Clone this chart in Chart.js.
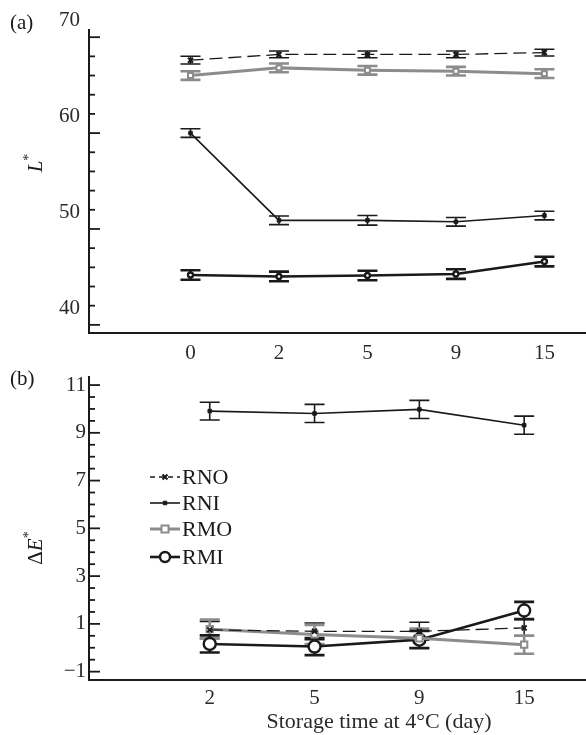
<!DOCTYPE html>
<html>
<head>
<meta charset="utf-8">
<script src="https://cdn.jsdelivr.net/npm/chart.js@4.4.0/dist/chart.umd.min.js"></script>
<style>
    html, body { margin: 0; padding: 0; background: #fff; overflow: hidden; }
    #wrapA { position: absolute; left: 0; top: 0; width: 586px; height: 365px; }
    #wrapB { position: absolute; left: 0; top: 365px; width: 586px; height: 370px; }
</style>
</head>
<body>
<div id="wrapA"><canvas id="chartA"></canvas></div>
<div id="wrapB"><canvas id="chartB"></canvas></div>
<script>
// Panel (a): L* against storage day
const daysA = ['0', '2', '5', '9', '15'];
const lightRNO = [65.6, 66.2, 66.2, 66.2, 66.4];
const lightRNOErr = [0.4, 0.35, 0.35, 0.35, 0.35];
const lightRNI = [58.0, 48.9, 48.9, 48.75, 49.4];
const lightRNIErr = [0.45, 0.45, 0.5, 0.45, 0.45];
const lightRMO = [64.0, 64.8, 64.55, 64.45, 64.2];
const lightRMOErr = [0.45, 0.45, 0.45, 0.45, 0.45];
const lightRMI = [43.2, 43.05, 43.15, 43.3, 44.6];
const lightRMIErr = [0.5, 0.5, 0.5, 0.5, 0.5];
const ticksA = [38, 40, 42, 44, 46, 48, 50, 52, 54, 56, 58, 60, 62, 64, 66, 68, 70];
const labelsA = [40, 50, 60, 70];

// Panel (b): delta E* against storage day
const daysB = ['2', '5', '9', '15'];
const deltaRNO = [0.75, 0.69, 0.69, 0.83];
const deltaRNOErr = [0.35, 0.35, 0.38, 0.35];
const deltaRNI = [9.91, 9.81, 9.98, 9.32];
const deltaRNIErr = [0.37, 0.38, 0.38, 0.38];
const deltaRMO = [0.78, 0.56, 0.4, 0.13];
const deltaRMOErr = [0.4, 0.4, 0.4, 0.38];
const deltaRMI = [0.16, 0.05, 0.34, 1.56];
const deltaRMIErr = [0.36, 0.36, 0.36, 0.36];
const ticksB = [-1, -0.5, 0, 0.5, 1, 1.5, 2, 2.5, 3, 3.5, 4, 4.5, 5, 5.5, 6, 6.5, 7, 7.5, 8, 8.5, 9, 9.5, 10, 10.5, 11];
const labelsB = [-1, 1, 3, 5, 7, 9, 11];

const seriesNames = ['RNO', 'RNI', 'RMO', 'RMI'];
const xTitle = 'Storage time at 4\u00B0C (day)';

const FONT = "'Liberation Serif', 'DejaVu Serif', serif";
const INK = '#1a1a1a';
const GREY = '#8c8c8c';

function points(values) {
    return values.map((v, i) => ({ x: i, y: v }));
}

// error bars with caps, drawn under the markers
const errorBars = {
    id: 'errorBars',
    beforeDatasetsDraw(chart) {
        const ctx = chart.ctx;
        const yScale = chart.scales.y;
        chart.data.datasets.forEach((ds, i) => {
            if (!ds.errors) return;
            const meta = chart.getDatasetMeta(i);
            ctx.save();
            ctx.strokeStyle = ds.borderColor;
            ctx.lineWidth = ds.errWidth;
            meta.data.forEach((pt, j) => {
                const v = ds.data[j].y;
                const e = ds.errors[j];
                const top = yScale.getPixelForValue(v + e);
                const bot = yScale.getPixelForValue(v - e);
                ctx.beginPath();
                ctx.moveTo(pt.x, top);
                ctx.lineTo(pt.x, bot);
                ctx.moveTo(pt.x - ds.capHalf, top);
                ctx.lineTo(pt.x + ds.capHalf, top);
                ctx.moveTo(pt.x - ds.capHalf, bot);
                ctx.lineTo(pt.x + ds.capHalf, bot);
                ctx.stroke();
            });
            ctx.restore();
        });
    }
};

// tick marks pointing into the plot
const innerTicks = {
    id: 'innerTicks',
    afterDraw(chart, args, opts) {
        const s = chart.scales.y;
        const ctx = chart.ctx;
        const area = chart.chartArea;
        ctx.save();
        ctx.strokeStyle = INK;
        ctx.lineWidth = 1.8;
        s.ticks.forEach(t => {
            const py = s.getPixelForValue(t.value);
            if (py < area.top - 1 || py > area.bottom + 1) return;
            const len = opts.major.includes(t.value) ? 11 : 6;
            ctx.beginPath();
            ctx.moveTo(area.left, py);
            ctx.lineTo(area.left + len, py);
            ctx.stroke();
        });
        ctx.restore();
    }
};

// panel letter, y title with italic/superscript parts, optional x title
const panelText = {
    id: 'panelText',
    afterDraw(chart, args, opts) {
        const ctx = chart.ctx;
        ctx.save();
        ctx.fillStyle = INK;
        ctx.font = '21px ' + FONT;
        ctx.textBaseline = 'middle';
        ctx.textAlign = 'left';
        ctx.fillText(opts.panel, 10, opts.panelY);

        if (opts.xTitle) {
            ctx.font = '22px ' + FONT;
            ctx.textAlign = 'center';
            ctx.fillStyle = '#2a2a2a';
            ctx.fillText(opts.xTitle, opts.xTitleX, opts.xTitleY);
            ctx.textAlign = 'left';
            ctx.fillStyle = INK;
        }

        const parts = opts.title;
        const fontOf = p => (p.italic ? 'italic ' : '') + (p.sup ? '14px ' : '21px ') + FONT;
        let total = 0;
        parts.forEach(p => { ctx.font = fontOf(p); total += ctx.measureText(p.text).width; });
        ctx.translate(opts.titleX, opts.titleY);
        ctx.rotate(-Math.PI / 2);
        let x = -total / 2;
        parts.forEach(p => {
            ctx.font = fontOf(p);
            ctx.fillText(p.text, x, p.sup ? -7 : 0);
            x += ctx.measureText(p.text).width;
        });
        ctx.restore();
    }
};

// legend placed inside panel (b)
const insideLegend = {
    id: 'insideLegend',
    afterDraw(chart, args, opts) {
        const ctx = chart.ctx;
        ctx.save();
        chart.data.datasets.forEach((ds, i) => {
            const y = opts.rows[i];
            ctx.strokeStyle = ds.borderColor;
            ctx.lineWidth = ds.borderWidth;
            ctx.setLineDash(ds.borderDash && ds.borderDash.length ? [5, 4] : []);
            ctx.beginPath();
            ctx.moveTo(opts.x0, y);
            ctx.lineTo(opts.x1, y);
            ctx.stroke();
            ctx.setLineDash([]);
            ctx.fillStyle = ds.pointBackgroundColor;
            ctx.strokeStyle = ds.pointBorderColor;
            ctx.lineWidth = ds.pointBorderWidth;
            Chart.helpers.drawPoint(ctx, {
                pointStyle: ds.pointStyle,
                radius: opts.radius[i],
                rotation: 0,
                borderWidth: ds.pointBorderWidth
            }, (opts.x0 + opts.x1) / 2, y);
            ctx.fillStyle = INK;
            ctx.font = '22px ' + FONT;
            ctx.textBaseline = 'middle';
            ctx.textAlign = 'left';
            ctx.fillText(ds.label, opts.x1 + 2, y + 1);
        });
        ctx.restore();
    }
};

function makeDatasets(values, errors, radii, capHalf) {
    return [
        {
            label: seriesNames[0], data: points(values[0]), errors: errors[0],
            borderColor: INK, borderWidth: 1.3, borderDash: [13, 6],
            pointStyle: 'crossRot', pointRadius: radii[0], pointBorderWidth: 2,
            pointBackgroundColor: INK, pointBorderColor: INK,
            errWidth: 1.5, capHalf: capHalf
        },
        {
            label: seriesNames[1], data: points(values[1]), errors: errors[1],
            borderColor: INK, borderWidth: 1.6,
            pointStyle: 'rect', pointRadius: radii[1], pointBorderWidth: 1,
            pointBackgroundColor: INK, pointBorderColor: INK,
            errWidth: 1.6, capHalf: capHalf
        },
        {
            label: seriesNames[2], data: points(values[2]), errors: errors[2],
            borderColor: GREY, borderWidth: 3,
            pointStyle: 'rect', pointRadius: radii[2], pointBorderWidth: 2,
            pointBackgroundColor: '#fff', pointBorderColor: GREY,
            errWidth: 2.6, capHalf: capHalf
        },
        {
            label: seriesNames[3], data: points(values[3]), errors: errors[3],
            borderColor: INK, borderWidth: 2.6,
            pointStyle: 'circle', pointRadius: radii[3], pointBorderWidth: 2.4,
            pointBackgroundColor: '#fff', pointBorderColor: INK,
            errWidth: 2.6, capHalf: capHalf
        }
    ];
}

function xScale(days, min, max, axisHeight, padding) {
    return {
        type: 'linear',
        min: min,
        max: max,
        grid: { display: false, drawTicks: false },
        border: { display: true, color: INK, width: 2 },
        afterBuildTicks: scale => { scale.ticks = days.map((d, i) => ({ value: i })); },
        afterFit: scale => {
            scale.height = axisHeight;
            scale.paddingLeft = 0;
            scale.paddingRight = 0;
        },
        ticks: {
            autoSkip: false,
            maxRotation: 0,
            padding: padding,
            color: '#2a2a2a',
            font: { family: FONT, size: 21 },
            callback: v => days[v] !== undefined ? days[v] : ''
        }
    };
}

function yScale(min, max, tickValues, labelValues, padding, labelOffset) {
    return {
        type: 'linear',
        min: min,
        max: max,
        grid: { display: false, drawTicks: false },
        border: { display: true, color: INK, width: 2 },
        afterBuildTicks: scale => { scale.ticks = tickValues.map(v => ({ value: v })); },
        afterFit: scale => {
            scale.width = 89;
            scale.paddingTop = 0;
            scale.paddingBottom = 0;
        },
        ticks: {
            autoSkip: false,
            padding: padding,
            labelOffset: labelOffset,
            color: '#2a2a2a',
            font: { family: FONT, size: 21 },
            callback: v => labelValues.includes(v) ? (v < 0 ? '\u2212' + Math.abs(v) : String(v)) : ''
        }
    };
}

document.addEventListener('DOMContentLoaded', function() {
    new Chart(document.getElementById('chartA'), {
        type: 'line',
        data: {
            datasets: makeDatasets(
                [lightRNO, lightRNI, lightRMO, lightRMI],
                [lightRNOErr, lightRNIErr, lightRMOErr, lightRMIErr],
                [3.5, 2.5, 3.5, 2.5], 10)
        },
        options: {
            responsive: true,
            maintainAspectRatio: false,
            animation: false,
            layout: { autoPadding: false, padding: { top: 30, left: 0, right: 0, bottom: 0 } },
            plugins: {
                legend: { display: false },
                tooltip: { enabled: false },
                innerTicks: { major: [38, 48, 58, 68] },
                panelText: {
                    panel: '(a)', panelY: 23,
                    title: [{ text: 'L', italic: true }, { text: '*', sup: true }],
                    titleX: 36, titleY: 163
                }
            },
            scales: {
                x: xScale(daysA, -1.147, 4.47, 31.7, 8),
                y: yScale(37.12, 68.75, ticksA, labelsA, 9, 2.5)
            }
        },
        plugins: [errorBars, innerTicks, panelText]
    });

    new Chart(document.getElementById('chartB'), {
        type: 'line',
        data: {
            datasets: makeDatasets(
                [deltaRNO, deltaRNI, deltaRMO, deltaRMI],
                [deltaRNOErr, deltaRNIErr, deltaRMOErr, deltaRMIErr],
                [3.5, 2.5, 4.5, 6], 10)
        },
        options: {
            responsive: true,
            maintainAspectRatio: false,
            animation: false,
            layout: { autoPadding: false, padding: { top: 11.7, left: 0, right: 0, bottom: 0 } },
            plugins: {
                legend: { display: false },
                tooltip: { enabled: false },
                innerTicks: { major: labelsB },
                panelText: {
                    panel: '(b)', panelY: 14,
                    title: [{ text: '\u0394' }, { text: 'E', italic: true }, { text: '*', sup: true }],
                    titleX: 36, titleY: 183,
                    xTitle: xTitle, xTitleX: 379, xTitleY: 357
                },
                insideLegend: {
                    x0: 150, x1: 180,
                    rows: [112, 138, 164, 192],
                    radius: [3.5, 2.5, 5, 5]
                }
            },
            scales: {
                x: xScale(daysB, -1.152, 3.59, 55, 6),
                y: yScale(-1.35, 11.35, ticksB, labelsB, 3, 0)
            }
        },
        plugins: [errorBars, innerTicks, panelText, insideLegend]
    });
});
</script>
</body>
</html>
